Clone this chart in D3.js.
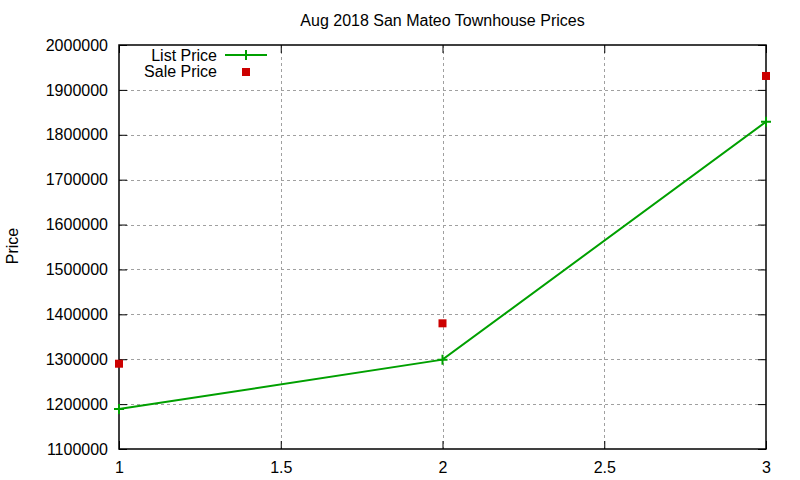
<!DOCTYPE html>
<html>
<head>
<meta charset="utf-8">
<script src="https://cdn.jsdelivr.net/npm/d3@7"></script>
<style>
  body { margin: 0; background: #fff; }
  text { font-family: "Liberation Sans", Arial, sans-serif; fill: #000; }
</style>
</head>
<body>
<svg id="chart" width="800" height="480"></svg>
<script>
// values
const xs = [1, 2, 3];
const listPrice = [1189000, 1299000, 1829000];
const salePrice = [1290000, 1380000, 1931000];
const xTicks = [1, 1.5, 2, 2.5, 3];
const yTicks = [1100000, 1200000, 1300000, 1400000, 1500000, 1600000, 1700000, 1800000, 1900000, 2000000];

const svg = d3.select("#chart"),
    WIDTH = 800,
    HEIGHT = 480,
    MARGINS = {top: 45, right: 34, bottom: 31, left: 119};

let x = d3.scaleLinear().domain([1, 3]).range([MARGINS.left, WIDTH - MARGINS.right]);
let y = d3.scaleLinear().domain([1100000, 2000000]).range([HEIGHT - MARGINS.bottom, MARGINS.top]);

const x0 = x.range()[0], x1 = x.range()[1], y0 = y.range()[0], y1 = y.range()[1];

// grid
let grid = svg.append("g").attr("stroke", "#a0a0a0").attr("stroke-dasharray", "3,3").attr("stroke-width", 1);
grid.selectAll(".gx").data(xTicks.slice(1, -1)).enter().append("line")
    .attr("x1", d => Math.round(x(d)) + 0.5).attr("x2", d => Math.round(x(d)) + 0.5)
    .attr("y1", y1).attr("y2", y0);
grid.selectAll(".gy").data(yTicks.slice(1, -1)).enter().append("line")
    .attr("y1", d => Math.round(y(d)) + 0.5).attr("y2", d => Math.round(y(d)) + 0.5)
    .attr("x1", x0).attr("x2", x1);

// axes (ticks pointing inward, mirrored like gnuplot)
let axL = svg.append("g").attr("transform", "translate(" + x0 + ",0)")
    .call(d3.axisLeft(y).tickValues(yTicks).tickSize(-8).tickPadding(11).tickFormat(d3.format("d")));
let axR = svg.append("g").attr("transform", "translate(" + x1 + ",0)")
    .call(d3.axisRight(y).tickValues(yTicks).tickSize(-8).tickFormat(""));
let axB = svg.append("g").attr("transform", "translate(0," + y0 + ")")
    .call(d3.axisBottom(x).tickValues(xTicks).tickSize(-8).tickPadding(13).tickFormat(d3.format("")));
let axT = svg.append("g").attr("transform", "translate(0," + y1 + ")")
    .call(d3.axisTop(x).tickValues(xTicks).tickSize(-8).tickFormat(""));

[axL, axR, axB, axT].forEach(a => {
    a.select(".domain").remove();
    a.selectAll("line").attr("stroke", "#000");
    a.selectAll("text").attr("font-size", 16).attr("font-family", "Liberation Sans, Arial, sans-serif").attr("fill", "#000");
});

svg.append("rect")
    .attr("x", x0).attr("y", y1).attr("width", x1 - x0).attr("height", y0 - y1)
    .attr("fill", "none").attr("stroke", "#000").attr("stroke-width", 1.5);

// title and y label
svg.append("text").attr("x", (x0 + x1) / 2).attr("y", 26)
    .attr("text-anchor", "middle").attr("font-size", 16)
    .text("Aug 2018 San Mateo Townhouse Prices");
svg.append("text").attr("transform", "translate(18,246) rotate(-90)")
    .attr("text-anchor", "middle").attr("font-size", 16)
    .text("Price");

const green = "#00a000", red = "#cc0000";
let data = xs.map((d, i) => ({x: d, list: listPrice[i], sale: salePrice[i]}));

// list price line
let line = d3.line().x(d => x(d.x)).y(d => y(d.list));
svg.append("path").datum(data)
    .attr("d", line).attr("fill", "none").attr("stroke", green).attr("stroke-width", 2);

let plus = d3.symbol().type(d3.symbolCross);
function drawPlus(g, cx, cy) {
    g.append("path").attr("d", "M" + (cx - 5) + "," + cy + "h10M" + cx + "," + (cy - 5) + "v10")
        .attr("stroke", green).attr("stroke-width", 2).attr("fill", "none");
}
let pts = svg.append("g");
data.forEach(d => drawPlus(pts, x(d.x), y(d.list)));

// sale price squares
svg.selectAll(".sale").data(data).enter().append("rect")
    .attr("x", d => x(d.x) - 4).attr("y", d => y(d.sale) - 4)
    .attr("width", 8).attr("height", 8).attr("fill", red);

// legend
let legend = svg.append("g");
legend.append("text").attr("x", 217).attr("y", 61).attr("text-anchor", "end").attr("font-size", 16).text("List Price");
legend.append("text").attr("x", 217).attr("y", 77).attr("text-anchor", "end").attr("font-size", 16).text("Sale Price");
legend.append("line").attr("x1", 225).attr("x2", 267).attr("y1", 55).attr("y2", 55)
    .attr("stroke", green).attr("stroke-width", 2);
drawPlus(legend, 246, 55);
legend.append("rect").attr("x", 242).attr("y", 68).attr("width", 8).attr("height", 8).attr("fill", red);
</script>
</body>
</html>
